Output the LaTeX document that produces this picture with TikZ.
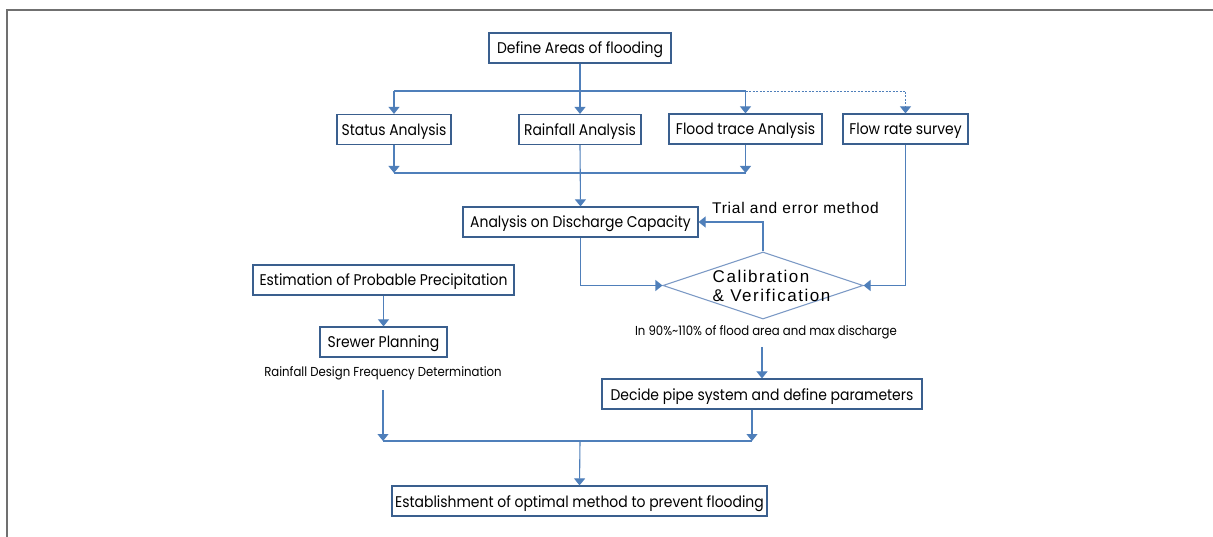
\documentclass[tikz,border=0pt]{standalone}
\usepackage{fontspec}
\setmainfont{Poppins}[FakeStretch=0.9]
\newfontfamily\gul{Liberation Sans}[LetterSpace=5]
\newfontfamily\gulw{Liberation Sans}[LetterSpace=9]
\usetikzlibrary{arrows.meta,shapes.geometric}
\definecolor{ln}{HTML}{4F7FBA}
\definecolor{bd}{HTML}{3A5F8E}
\definecolor{dm}{HTML}{7E9BC6}
\definecolor{fr}{HTML}{707070}
\begin{document}
\begin{tikzpicture}[x=1pt,y=-1pt,
  box/.style={draw=bd,line width=1.2pt,minimum height=30pt,inner sep=0pt,fill=white,text height=12pt,text depth=0pt,font=\fontsize{15.5}{18}\selectfont},
  conn/.style={draw=ln,line width=1.1pt},
  arr/.style={conn,-{Triangle[width=11pt,length=7pt]}},
  lbl/.style={inner sep=0pt,font=\fontsize{13}{15}\selectfont},
  glbl/.style={inner sep=0pt,font=\gul\fontsize{15.5}{19}\selectfont},
  dlbl/.style={inner sep=0pt,font=\gulw\fontsize{17}{19}\selectfont}]
\useasboundingbox (0,0) rectangle (1213,537);
\draw[fr,line width=1.6pt] (7,537) -- (7,10) -- (1213,10);

\node[box,minimum width=182pt] (define) at (580,48) {Define Areas of flooding};
\node[box,minimum width=114pt] (status) at (394,129.5) {Status Analysis};
\node[box,minimum width=122pt] (rain) at (580,129.5) {Rainfall Analysis};
\node[box,minimum width=153pt] (flood) at (745.5,129) {Flood trace Analysis};
\node[box,minimum width=125pt] (flow) at (905.5,129) {Flow rate survey};
\node[box,minimum width=235pt] (disch) at (580.5,222) {Analysis on Discharge Capacity};
\node[box,minimum width=261pt] (estim) at (383.5,280) {Estimation of Probable Precipitation};
\node[box,minimum width=127pt] (srewer) at (383.5,342) {Srewer Planning};
\node[box,minimum width=320pt] (decide) at (762,394) {Decide pipe system and define parameters};
\node[box,minimum width=375pt] (estab) at (579.5,501) {Establishment of optimal method to prevent flooding};

\node[draw=dm,line width=1.1pt,diamond,minimum width=200pt,minimum height=67pt,inner sep=0pt] (cal) at (763,285.5) {};
\node[dlbl,align=left] (caltext) at (771.5,286) {Calibration\\\& Verification};
\node[glbl] (trial) at (795.5,208) {Trial and error method};
\node[lbl] (crit) at (766,332) {In 90\%\textasciitilde110\% of flood area and max discharge};
\node[lbl] (rdf) at (383,373) {Rainfall Design Frequency Determination};

\coordinate (b1) at (394,91);
\coordinate (b3) at (745.5,91);
\coordinate (b4) at (905.5,91);
\coordinate (c1) at (394,173);
\coordinate (c3) at (745.5,173);
\coordinate (d0) at (762,347);
\coordinate (r0) at (383,390);
\coordinate (e1) at (383,441);
\coordinate (e2) at (752,441);
\coordinate (e0) at (580,441);

\draw[conn] (define.south) -- (define.south |- b1);
\draw[conn] (b1) -- (b3);
\draw[arr] (b1) -- (status.north);
\draw[arr] (define.south) -- (rain.north);
\draw[arr] (b3) -- (flood.north);
\draw[conn,dash pattern=on 2pt off 1.5pt,line width=0.9pt,-{Triangle[width=11pt,length=7pt]}] (b3) -- (b4) -- (flow.north);

\draw[arr] (status.south) -- (c1);
\draw[arr] (flood.south) -- (c3);
\draw[conn] (c1) -- (c3);
\draw[arr] (rain.south) -- (disch.north);

\draw[arr] (cal.north) |- (disch.east);
\draw[arr] (disch.south) |- (cal.west);
\draw[arr] (flow.south) |- (cal.east);
\draw[arr] (d0) -- (decide.north);

\draw[arr] (estim.south) -- (srewer.north);
\draw[arr] (r0) -- (e1);
\draw[arr] (e2 |- decide.south) -- (e2);
\draw[conn] (e1) -- (e2);
\draw[arr] (e0) -- (estab.north);
\end{tikzpicture}
\end{document}
